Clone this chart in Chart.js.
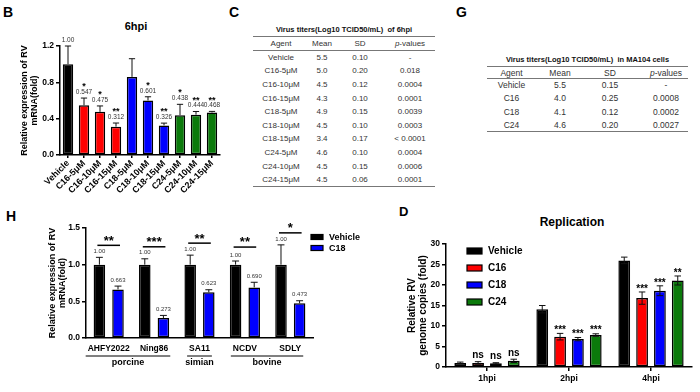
<!DOCTYPE html>
<html>
<head>
<meta charset="utf-8">
<script src="https://cdn.jsdelivr.net/npm/chart.js@4.4.1/dist/chart.umd.min.js"></script>
<style>
  body { margin: 0; width: 700px; height: 392px; background: #fff; position: relative; overflow: hidden;
         font-family: "Liberation Sans", Arial, Helvetica, sans-serif; color: #000; }
  .box { position: absolute; }
  .letter { position: absolute; font-weight: bold; font-size: 14px; line-height: 1; }
  .ctitle { position: absolute; font-weight: bold; text-align: center; line-height: 1; }
  .ttl { position: absolute; font-weight: bold; font-size: 7.5px; text-align: center; line-height: 10px; color: #111; white-space: nowrap; }
  table.tab { position: absolute; border-collapse: collapse; table-layout: fixed; color: #333;
              border-top: 1px solid #777; border-bottom: 1.5px solid #777; }
  table.tab th, table.tab td { padding: 0; text-align: center; font-weight: normal; white-space: nowrap; }
  table.tab thead th { border-bottom: 1px solid #777; }
</style>
</head>
<body>

<div class="letter" style="left:3px;top:5px">B</div>
<div class="letter" style="left:229px;top:5px">C</div>
<div class="letter" style="left:456px;top:5px">G</div>
<div class="letter" style="left:6px;top:209px">H</div>
<div class="letter" style="left:399px;top:205px;font-size:13px">D</div>

<div class="ctitle" style="left:96px;top:21px;width:80px;font-size:11px">6hpi</div>
<div class="ctitle" style="left:512px;top:216px;width:120px;font-size:12px">Replication</div>

<div class="box" style="left:0;top:0;width:230px;height:200px"><canvas id="chartB"></canvas></div>
<div class="box" style="left:0;top:200px;width:375px;height:192px"><canvas id="chartH"></canvas></div>
<div class="box" style="left:375px;top:200px;width:325px;height:192px"><canvas id="chartD"></canvas></div>

<div class="ttl" style="left:253px;top:25px;width:182px">Virus titers(Log10 TCID50/mL)&nbsp; of 6hpi</div>
<table class="tab" id="tableC" style="left:253px;top:36px;width:182px;font-size:8px">
  <colgroup><col style="width:56px"><col style="width:26px"><col style="width:50px"><col style="width:50px"></colgroup>
  <thead><tr style="height:14px"><th>Agent</th><th>Mean</th><th>SD</th><th><i>p</i>-values</th></tr></thead>
  <tbody></tbody>
</table>

<div class="ttl" style="left:487px;top:55px;width:201px">Virus titers(Log10 TCID50/mL)&nbsp; in MA104 cells</div>
<table class="tab" id="tableG" style="left:487px;top:66px;width:201px;font-size:8.5px">
  <colgroup><col style="width:49px"><col style="width:48px"><col style="width:52px"><col style="width:52px"></colgroup>
  <thead><tr style="height:12px"><th>Agent</th><th>Mean</th><th>SD</th><th style="padding-left:8px"><i>p</i>-values</th></tr></thead>
  <tbody></tbody>
</table>

<script>
/* ---------- Data ---------- */
// B: relative RV mRNA at 6hpi
const bCategories = ['Vehicle', 'C16-5μM', 'C16-10μM', 'C16-15μM', 'C18-5μM', 'C18-10μM', 'C18-15μM', 'C24-5μM', 'C24-10μM', 'C24-15μM'];
const bMeans = [1.00, 0.547, 0.475, 0.312, 0.86, 0.601, 0.326, 0.438, 0.444, 0.468];
const bSD = [0.20, 0.08, 0.065, 0.04, 0.20, 0.04, 0.025, 0.12, 0.035, 0.012];
const bValueLabels = ['1.00', '0.547', '0.475', '0.312', '', '0.601', '0.326', '0.438', '0.444', '0.468'];
const bStars = ['', '*', '*', '**', '', '*', '**', '*', '**', '**'];

// C: titers at 6hpi
const cAgents = ['Vehicle', 'C16-5μM', 'C16-10μM', 'C16-15μM', 'C18-5μM', 'C18-10μM', 'C18-15μM', 'C24-5μM', 'C24-10μM', 'C24-15μM'];
const cMeans = ['5.5', '5.0', '4.5', '4.3', '4.9', '4.5', '3.4', '4.6', '4.5', '4.5'];
const cSD = ['0.10', '0.20', '0.12', '0.10', '0.15', '0.10', '0.17', '0.10', '0.15', '0.06'];
const cP = ['-', '0.018', '0.0004', '0.0001', '0.0039', '0.0003', '< 0.0001', '0.0004', '0.0006', '0.0001'];

// G: titers in MA104 cells
const gAgents = ['Vehicle', 'C16', 'C18', 'C24'];
const gMeans = ['5.5', '4.0', '4.1', '4.6'];
const gSD = ['0.15', '0.25', '0.12', '0.20'];
const gP = ['-', '0.0008', '0.0002', '0.0027'];

// H: strains
const hStrains = ['AHFY2022', 'Ning86', 'SA11', 'NCDV', 'SDLY'];
const hVehicle = [1.00, 1.00, 1.00, 1.00, 1.00];
const hVehicleSD = [0.10, 0.08, 0.13, 0.05, 0.27];
const hVehicleLabels = ['1.00', '1.00', '1.00', '1.00', '1.00'];
const hC18 = [0.663, 0.273, 0.623, 0.690, 0.473];
const hC18SD = [0.045, 0.035, 0.035, 0.07, 0.035];
const hC18Labels = ['0.663', '0.273', '0.623', '0.690', '0.473'];
const hStars = ['**', '***', '**', '**', '*'];
const hHosts = ['porcine', 'simian', 'bovine'];
const hHostSpans = [[0, 1], [2, 2], [3, 4]];

// D: replication
const dTimes = ['1hpi', '2hpi', '4hpi'];
const dVehicle = [1.0, 14.1, 26.0];
const dVehicleSD = [0.2, 0.9, 0.8];
const dC16 = [1.0, 7.4, 16.8];
const dC16SD = [0.3, 0.8, 1.5];
const dC18 = [0.9, 6.8, 18.6];
const dC18SD = [0.15, 0.4, 1.2];
const dC24 = [1.5, 7.8, 21.1];
const dC24SD = [0.4, 0.3, 1.1];
const dC16Marks = ['ns', '***', '***'];
const dC18Marks = ['ns', '***', '***'];
const dC24Marks = ['ns', '***', '**'];

/* ---------- Tables ---------- */
function fillTable(id, cols, rowH) {
  const body = document.querySelector('#' + id + ' tbody');
  body.innerHTML = cols[0].map((_, i) =>
    `<tr style="height:${rowH}px">${cols.map((c, k) => `<td${k === 3 && id === 'tableG' ? ' style="padding-left:8px"' : ''}>${c[i]}</td>`).join('')}</tr>`
  ).join('');
}
fillTable('tableC', [cAgents, cMeans, cSD, cP], 13.6);
fillTable('tableG', [gAgents, gMeans, gSD, gP], 13.25);

/* ---------- Helpers ---------- */
const FONT = '"Liberation Sans", Arial, Helvetica, sans-serif';
const BLACK = '#000000', RED = '#ff0000', BLUE = '#0000ff', GREEN = '#0b7a0b';

function drawMark(ctx, text, x, vc, size) {
  ctx.font = `bold ${size}px ${FONT}`;
  ctx.textAlign = 'center';
  ctx.textBaseline = 'alphabetic';
  const k = /^\*+$/.test(text) ? 0.57 : 0.26;
  ctx.fillText(text, x, vc + k * size);
}

// error bars, value labels and significance marks on top of each bar
const barExtras = {
  id: 'barExtras',
  afterDatasetsDraw(chart, args, opts) {
    const ctx = chart.ctx;
    const y = chart.scales.y;
    chart.data.datasets.forEach((ds, i) => {
      const meta = chart.getDatasetMeta(i);
      meta.data.forEach((bar, j) => {
        const v = ds.data[j], e = ds.errors[j];
        const yTop = y.getPixelForValue(v + e);
        const yBot = opts.both ? y.getPixelForValue(Math.max(0, v - e)) : bar.y;
        const cap = bar.width * opts.cap;
        ctx.save();
        ctx.strokeStyle = '#111';
        ctx.lineWidth = 1;
        ctx.beginPath();
        ctx.moveTo(bar.x, yBot); ctx.lineTo(bar.x, yTop);
        ctx.moveTo(bar.x - cap / 2, yTop); ctx.lineTo(bar.x + cap / 2, yTop);
        if (opts.both) { ctx.moveTo(bar.x - cap / 2, yBot); ctx.lineTo(bar.x + cap / 2, yBot); }
        ctx.stroke();
        ctx.fillStyle = '#333';
        let nextY = yTop;
        if (ds.valueLabels && ds.valueLabels[j]) {
          ctx.font = `${opts.valueSize}px ${FONT}`;
          ctx.textAlign = 'center';
          ctx.textBaseline = 'middle';
          ctx.fillText(ds.valueLabels[j], bar.x, yTop - opts.valueGap);
          nextY = yTop - opts.valueGap;
        }
        if (ds.marks && ds.marks[j]) {
          ctx.fillStyle = '#000';
          drawMark(ctx, ds.marks[j], bar.x, nextY - opts.markGap, opts.markSize);
        }
        ctx.restore();
      });
    });
  }
};

// legend drawn inside the canvas from the datasets
const boxLegend = {
  id: 'boxLegend',
  afterDraw(chart, args, opts) {
    const ctx = chart.ctx, a = chart.chartArea;
    ctx.save();
    chart.data.datasets.forEach((ds, i) => {
      const x = (opts.fromRight ? a.right : a.left) + opts.dx;
      const y = a.top + opts.dy + opts.step * i;
      ctx.fillStyle = ds.backgroundColor;
      ctx.fillRect(x, y - opts.boxH / 2, opts.boxW, opts.boxH);
      ctx.strokeStyle = '#000';
      ctx.lineWidth = 1.2;
      ctx.strokeRect(x, y - opts.boxH / 2, opts.boxW, opts.boxH);
      ctx.fillStyle = '#000';
      ctx.font = `bold ${opts.size}px ${FONT}`;
      ctx.textAlign = 'left';
      ctx.textBaseline = 'middle';
      ctx.fillText(ds.label, x + opts.boxW + opts.gap, y + 0.5);
    });
    ctx.restore();
  }
};

function yAxis(min, max, step, digits, titleLines, titleSize, titlePad, width) {
  return {
    min, max,
    ticks: { stepSize: step, color: '#000', padding: 2, font: { family: FONT, size: 8.5, weight: 'bold' },
             callback: v => Number(v).toFixed(digits) },
    grid: { display: true, drawOnChartArea: false, color: '#000', lineWidth: 1.5, tickLength: 4 },
    border: { color: '#000', width: 1.5 },
    title: { display: true, text: titleLines, color: '#000',
             font: { family: FONT, size: titleSize, weight: 'bold', lineHeight: 1.17 },
             padding: { top: titlePad, bottom: 0 } },
    afterFit(s) { s.width = width; }
  };
}

const baseOptions = {
  responsive: true,
  maintainAspectRatio: false,
  animation: false,
  events: []
};

/* ---------- B ---------- */
const bColors = [BLACK, RED, RED, RED, BLUE, BLUE, BLUE, GREEN, GREEN, GREEN];
new Chart(document.getElementById('chartB'), {
  type: 'bar',
  data: {
    labels: bCategories,
    datasets: [{
      data: bMeans, errors: bSD, valueLabels: bValueLabels, marks: bStars,
      backgroundColor: bColors, borderColor: '#000', borderWidth: 1.5, borderSkipped: false,
      categoryPercentage: 0.9, barPercentage: 0.72
    }]
  },
  options: {
    ...baseOptions,
    layout: { padding: { top: 46, right: 10, left: 0, bottom: 0 } },
    plugins: {
      legend: { display: false }, tooltip: { enabled: false },
      barExtras: { cap: 0.6, both: false, valueGap: 6, valueSize: 6.5, markGap: 8, markSize: 9 }
    },
    scales: {
      x: {
        ticks: { color: '#000', font: { family: FONT, size: 9, weight: 'bold' }, minRotation: 45, maxRotation: 45, autoSkip: false, padding: 0 },
        grid: { display: true, drawOnChartArea: false, offset: false, color: '#000', lineWidth: 1.5, tickLength: 3 },
        border: { color: '#000', width: 1.5 },
        afterFit(s) { s.height = 45; }
      },
      y: yAxis(0, 1.2, 0.4, 1, ['Relative expression of RV', 'mRNA(fold)'], 9, 19, 60)
    }
  },
  plugins: [barExtras]
});

/* ---------- H ---------- */
const hBrackets = {
  id: 'hBrackets',
  afterDraw(chart) {
    const ctx = chart.ctx, y = chart.scales.y, x = chart.scales.x, a = chart.chartArea;
    const m0 = chart.getDatasetMeta(0), m1 = chart.getDatasetMeta(1);
    const ds0 = chart.data.datasets[0], ds1 = chart.data.datasets[1];
    ctx.save();
    // significance brackets
    hStars.forEach((s, j) => {
      const errTop = Math.min(y.getPixelForValue(ds0.data[j] + ds0.errors[j]), y.getPixelForValue(ds1.data[j] + ds1.errors[j]));
      const ly = Math.min(y.getPixelForValue(1.24), errTop - 12);
      ctx.strokeStyle = '#000';
      ctx.lineWidth = 1.5;
      ctx.beginPath();
      ctx.moveTo(m0.data[j].x - 2, ly); ctx.lineTo(m1.data[j].x + 2, ly);
      ctx.stroke();
      ctx.fillStyle = '#000';
      drawMark(ctx, s, (m0.data[j].x + m1.data[j].x) / 2, ly - 8, 13);
    });
    // host groups under the strain names
    ctx.font = `bold 8.5px ${FONT}`;
    hHostSpans.forEach((span, k) => {
      const l = x.getPixelForValue(span[0]) - ctx.measureText(hStrains[span[0]]).width / 2 - 2;
      const r = x.getPixelForValue(span[1]) + ctx.measureText(hStrains[span[1]]).width / 2 + 2;
      ctx.lineWidth = 1;
      ctx.beginPath();
      ctx.moveTo(l, a.bottom + 18); ctx.lineTo(r, a.bottom + 18);
      ctx.stroke();
      ctx.font = `bold 9px ${FONT}`;
      ctx.textAlign = 'center';
      ctx.textBaseline = 'middle';
      ctx.fillText(hHosts[k], (l + r) / 2, a.bottom + 25);
      ctx.font = `bold 8.5px ${FONT}`;
    });
    ctx.restore();
  }
};

new Chart(document.getElementById('chartH'), {
  type: 'bar',
  data: {
    labels: hStrains,
    datasets: [
      { label: 'Vehicle', data: hVehicle, errors: hVehicleSD, valueLabels: hVehicleLabels,
        backgroundColor: BLACK, borderColor: '#000', borderWidth: 1.5, borderSkipped: false },
      { label: 'C18', data: hC18, errors: hC18SD, valueLabels: hC18Labels,
        backgroundColor: BLUE, borderColor: '#000', borderWidth: 1.5, borderSkipped: false }
    ]
  },
  options: {
    ...baseOptions,
    datasets: { bar: { categoryPercentage: 0.82, barPercentage: 0.62 } },
    layout: { padding: { top: 28, right: 62, left: 0, bottom: 0 } },
    plugins: {
      legend: { display: false }, tooltip: { enabled: false },
      barExtras: { cap: 0.6, both: false, valueGap: 6, valueSize: 6, markGap: 8, markSize: 9 },
      boxLegend: { fromRight: true, dx: -2, dy: 9, step: 11, boxW: 12, boxH: 5, gap: 6, size: 9 }
    },
    scales: {
      x: {
        ticks: { color: '#000', font: { family: FONT, size: 8.5, weight: 'bold' }, maxRotation: 0, autoSkip: false, padding: 6 },
        grid: { display: true, drawOnChartArea: false, drawTicks: false, color: '#000' },
        border: { color: '#000', width: 1.5 },
        afterFit(s) { s.height = 54; }
      },
      y: yAxis(0, 1.5, 0.5, 1, ['Relative expression of RV', 'mRNA(fold)'], 9, 47, 86)
    }
  },
  plugins: [barExtras, hBrackets, boxLegend]
});

/* ---------- D ---------- */
new Chart(document.getElementById('chartD'), {
  type: 'bar',
  data: {
    labels: dTimes,
    datasets: [
      { label: 'Vehicle', data: dVehicle, errors: dVehicleSD, backgroundColor: BLACK, borderColor: '#000', borderWidth: 1.5, borderSkipped: false },
      { label: 'C16', data: dC16, errors: dC16SD, marks: dC16Marks, backgroundColor: RED, borderColor: '#000', borderWidth: 1.5, borderSkipped: false },
      { label: 'C18', data: dC18, errors: dC18SD, marks: dC18Marks, backgroundColor: BLUE, borderColor: '#000', borderWidth: 1.5, borderSkipped: false },
      { label: 'C24', data: dC24, errors: dC24SD, marks: dC24Marks, backgroundColor: GREEN, borderColor: '#000', borderWidth: 1.5, borderSkipped: false }
    ]
  },
  options: {
    ...baseOptions,
    datasets: { bar: { categoryPercentage: 0.87, barPercentage: 0.66 } },
    layout: { padding: { top: 44, right: 8, left: 0, bottom: 0 } },
    plugins: {
      legend: { display: false }, tooltip: { enabled: false },
      barExtras: { cap: 0.55, both: true, valueGap: 0, valueSize: 6, markGap: 6, markSize: 10 },
      boxLegend: { fromRight: false, dx: 21, dy: 7, step: 17, boxW: 15, boxH: 6, gap: 6, size: 10 }
    },
    scales: {
      x: {
        ticks: { color: '#000', font: { family: FONT, size: 8.5, weight: 'bold' }, maxRotation: 0, autoSkip: false, padding: 3 },
        grid: { display: true, drawOnChartArea: false, offset: false, color: '#000', lineWidth: 1.5, tickLength: 4 },
        border: { color: '#000', width: 1.5 },
        afterFit(s) { s.height = 25; }
      },
      y: yAxis(0, 30, 5, 0, ['Relative RV', 'genome copies (fold)'], 10, 31, 71)
    }
  },
  plugins: [barExtras, boxLegend]
});
</script>
</body>
</html>
